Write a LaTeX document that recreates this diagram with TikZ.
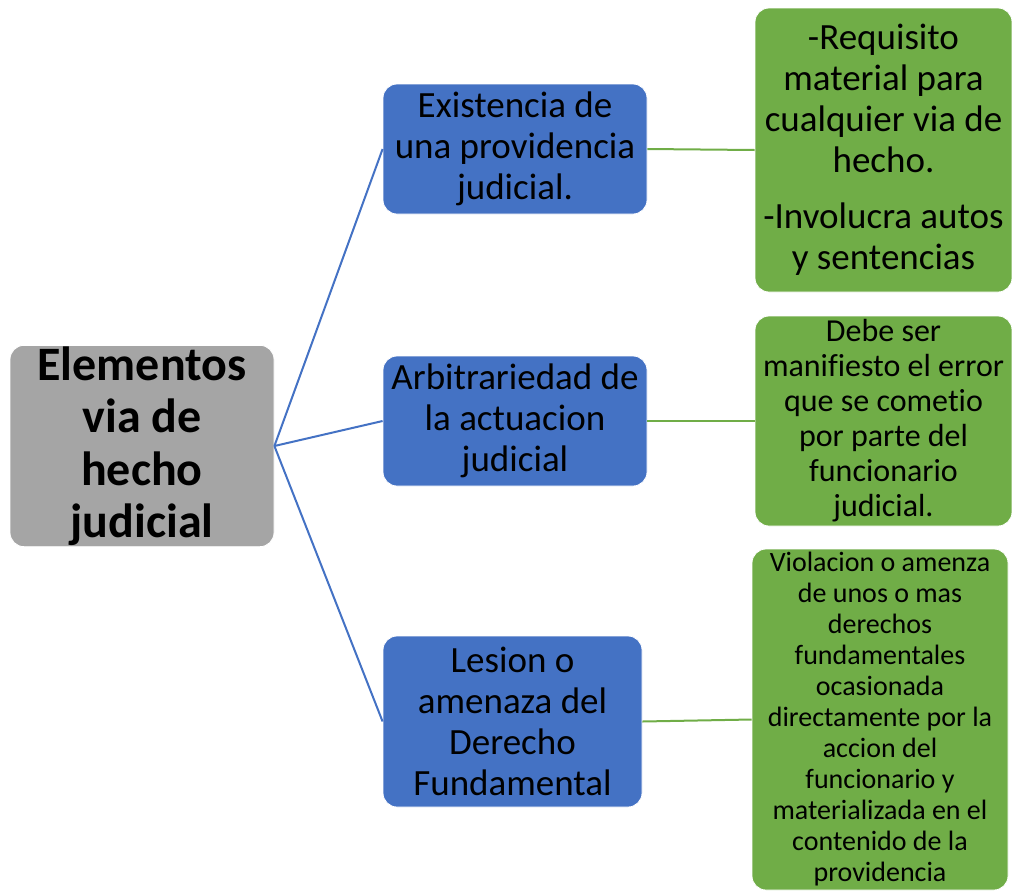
\documentclass[tikz,border=0pt]{standalone}
\usepackage{fontspec}
\setmainfont{Carlito}[Ligatures=NoCommon]
\usetikzlibrary{positioning}
\definecolor{mygrey}{RGB}{165,165,165}
\definecolor{myblue}{RGB}{68,114,196}
\definecolor{mygreen}{RGB}{112,173,71}

\tikzset{
	box/.style = {rectangle, rounded corners=14pt, draw=white, line width=0.8pt, align=center, inner sep=1pt},
	mainbox/.style = {box, fill=mygrey, font=\fontsize{48}{52.5}\selectfont\bfseries},
	itembox/.style = {box, fill=myblue, font=\fontsize{37}{41}\selectfont},
	notebox/.style = {box, fill=mygreen},
	bluelink/.style = {draw=myblue, line width=2pt},
	greenlink/.style = {draw=mygreen, line width=2pt}
}

\begin{document}
\begin{tikzpicture}[x=1pt, y=-1pt]

\useasboundingbox (0,0) rectangle (1012,892);

%---------MAIN BOX-----------%
\node [mainbox, minimum width=264pt, minimum height=196pt] (main) at (142,446) {Elementos\\via de\\hecho\\judicial};

%---------ELEMENTS-----------%
\node [itembox, minimum width=264pt, minimum height=130pt] (e1) at (515,149) {Existencia de\\una providencia\\judicial.};
\node [itembox, minimum width=264pt, minimum height=130pt] (e2) at (515,421) {Arbitrariedad de\\la actuacion\\judicial};
\node [itembox, minimum width=259pt, minimum height=171pt] (e3) at (512.5,721.5) {Lesion o\\amenaza del\\Derecho\\Fundamental};

%---------NOTES-----------%
\node [notebox, minimum width=257pt, minimum height=284pt, font=\fontsize{37}{41}\selectfont] (n1) at (883.5,150)
	{-Requisito\\material para\\cualquier via de\\hecho.\\[15pt]-Involucra autos\\y sentencias};
\node [notebox, minimum width=257pt, minimum height=210pt, font=\fontsize{32}{35}\selectfont] (n2) at (883.5,421)
	{Debe ser\\manifiesto el error\\que se cometio\\por parte del\\funcionario\\judicial.};
\node [notebox, minimum width=256pt, minimum height=341pt, font=\fontsize{28}{31}\selectfont] (n3) at (880,719.5)
	{Violacion o amenza\\de unos o mas\\derechos\\fundamentales\\ocasionada\\directamente por la\\accion del\\funcionario y\\materializada en el\\contenido de la\\providencia};

%----------LINKS-------------%
\foreach \x in {e1,e2,e3}{
	\draw [bluelink] (main.east) -- (\x.west);
};
\foreach \x/\y in {e1/n1,e2/n2,e3/n3}{
	\draw [greenlink] (\x.east) -- (\y.west);
};

\end{tikzpicture}
\end{document}
